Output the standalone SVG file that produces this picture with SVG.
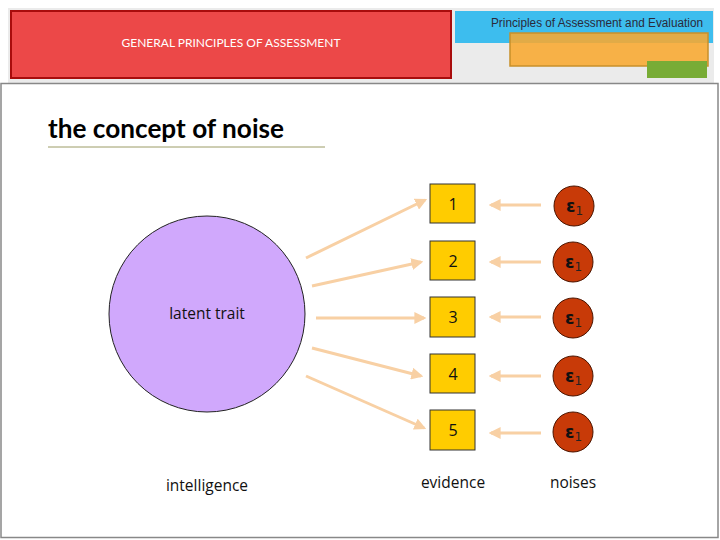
<svg xmlns="http://www.w3.org/2000/svg" width="720" height="540" viewBox="0 0 720 540">
<defs>
<style>
.lbl{font-family:"Open Sans",Lato,"Liberation Sans",sans-serif;fill:#111;text-anchor:middle}
.conn{stroke:#f8d0a4;stroke-width:3;fill:none;marker-end:url(#ah)}
.ev{fill:#ffcc00;stroke:#333;stroke-width:1}
.noise{fill:#c83a08;stroke:#4a1400;stroke-width:1}
.eps{font-family:"DejaVu Sans",sans-serif;fill:#111;font-size:17px;font-weight:bold}
.sub{font-family:"DejaVu Sans",sans-serif;fill:#222;font-size:12px}
</style>
<marker id="ah" viewBox="0 0 10 10" refX="8" refY="5" markerWidth="4" markerHeight="4" orient="auto" markerUnits="strokeWidth">
<path d="M0,0 L10,5 L0,10 Z" fill="#f8d0a4"/>
</marker>
</defs>
<rect width="720" height="540" fill="#fff"/>
<g id="header">
<rect x="8" y="8" width="706" height="76" fill="#ebebeb"/>
<rect x="11" y="11" width="440" height="67" fill="#ec4848" stroke="#a80c0c" stroke-width="2"/>
<text x="231" y="47" font-family="Lato,'Open Sans',sans-serif" font-size="12" fill="#fff" text-anchor="middle">GENERAL PRINCIPLES OF ASSESSMENT</text>
<rect x="455" y="11" width="258" height="32" fill="#3dbdee"/>
<text x="703" y="27" font-family="'Liberation Sans Narrow','Liberation Sans',sans-serif" font-size="12.5" fill="#2a2a3a" text-anchor="end" textLength="212" lengthAdjust="spacingAndGlyphs">Principles of Assessment and Evaluation</text>
<rect x="510" y="33" width="198" height="33" fill="#f8a830" fill-opacity="0.88" stroke="#c8902a" stroke-width="1.5"/>
<rect x="647" y="61" width="60" height="17" fill="#78ac36"/>
</g>
<rect x="1" y="83.5" width="717" height="454" fill="none" stroke="#888" stroke-width="1.5"/>
<g id="title">
<text x="48" y="138" font-family="Lato,'Open Sans',sans-serif" font-size="26" font-weight="bold" fill="#000" textLength="236" lengthAdjust="spacingAndGlyphs">the concept of noise</text>
<line x1="48" y1="147" x2="325" y2="147" stroke="#9c9c66" stroke-width="1"/>
</g>
<g id="connectors">
<line class="conn" x1="306" y1="258" x2="425" y2="200"/>
<line class="conn" x1="312" y1="286" x2="421" y2="262"/>
<line class="conn" x1="316" y1="318" x2="424" y2="318"/>
<line class="conn" x1="312" y1="348" x2="421" y2="376"/>
<line class="conn" x1="306" y1="376" x2="424" y2="428"/>
<line class="conn" x1="541" y1="205" x2="491" y2="205"/>
<line class="conn" x1="541" y1="262" x2="491" y2="262"/>
<line class="conn" x1="541" y1="317" x2="491" y2="317"/>
<line class="conn" x1="541" y1="376" x2="491" y2="376"/>
<line class="conn" x1="541" y1="433" x2="491" y2="433"/>
</g>
<g id="latent">
<circle cx="207" cy="314" r="98" fill="#d0a8fc" stroke="#222" stroke-width="1"/>
<text class="lbl" x="207" y="319" font-size="15.5">latent trait</text>
</g>
<g id="ev1"><rect class="ev" x="430" y="184" width="45" height="39"/><text class="lbl" x="453" y="210" font-size="16">1</text></g>
<g id="ev2"><rect class="ev" x="430" y="241" width="45" height="39"/><text class="lbl" x="453" y="267" font-size="16">2</text></g>
<g id="ev3"><rect class="ev" x="430" y="297" width="45" height="40"/><text class="lbl" x="453" y="323" font-size="16">3</text></g>
<g id="ev4"><rect class="ev" x="430" y="354" width="45" height="39"/><text class="lbl" x="453" y="380" font-size="16">4</text></g>
<g id="ev5"><rect class="ev" x="430" y="410" width="45" height="40"/><text class="lbl" x="453" y="436" font-size="16">5</text></g>
<g id="n1"><circle class="noise" cx="574" cy="206" r="20"/><text x="566" y="212"><tspan class="eps">ε</tspan><tspan class="sub" dy="3">1</tspan></text></g>
<g id="n2"><circle class="noise" cx="573" cy="262" r="20"/><text x="565" y="268"><tspan class="eps">ε</tspan><tspan class="sub" dy="3">1</tspan></text></g>
<g id="n3"><circle class="noise" cx="573" cy="318" r="20"/><text x="565" y="324"><tspan class="eps">ε</tspan><tspan class="sub" dy="3">1</tspan></text></g>
<g id="n4"><circle class="noise" cx="573" cy="376" r="20"/><text x="565" y="382"><tspan class="eps">ε</tspan><tspan class="sub" dy="3">1</tspan></text></g>
<g id="n5"><circle class="noise" cx="573" cy="432" r="20"/><text x="565" y="438"><tspan class="eps">ε</tspan><tspan class="sub" dy="3">1</tspan></text></g>
<g id="labels">
<text class="lbl" x="207" y="491" font-size="15.5">intelligence</text>
<text class="lbl" x="453" y="488" font-size="15.5">evidence</text>
<text class="lbl" x="573" y="488" font-size="15.5">noises</text>
</g>
</svg>
